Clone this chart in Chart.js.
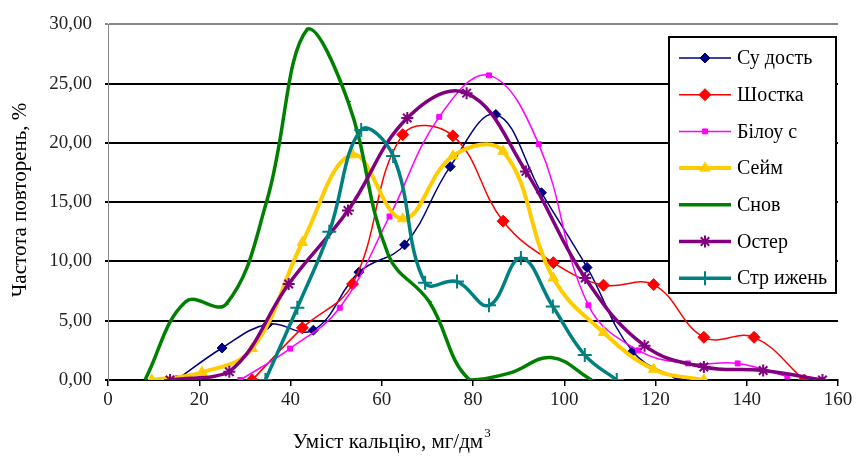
<!DOCTYPE html>
<html>
<head>
<meta charset="utf-8">
<script src="https://cdn.jsdelivr.net/npm/chart.js@4"></script>
<style>
  html, body { margin: 0; padding: 0; background: #fff; }
  #chart { display: block; }
</style>
</head>
<body>
<canvas id="chart" width="856" height="464"></canvas>
<script>
// values
const seriesNames = ['Су дость', 'Шостка', 'Білоу с', 'Сейм', 'Снов', 'Остер', 'Стр ижень'];

const sudostX = [15, 25, 35, 45, 55, 65, 75, 85, 95, 105, 115, 125];
const sudostY = [0, 2.7, 4.7, 4.2, 9.1, 11.4, 18.0, 22.4, 15.8, 9.5, 2.4, 0];

const shostkaX = [31.6, 42.6, 53.6, 64.6, 75.6, 86.6, 97.6, 108.6, 119.6, 130.6, 141.6, 152.6];
const shostkaY = [0, 4.4, 8.1, 20.7, 20.6, 13.4, 9.9, 8.0, 8.05, 3.6, 3.6, 0];

const bilousX = [29, 39.9, 50.8, 61.7, 72.6, 83.5, 94.4, 105.3, 116.2, 127.1, 138, 148.9];
const bilousY = [0, 2.65, 6.1, 13.8, 22.2, 25.7, 19.9, 6.3, 2.5, 1.4, 1.4, 0.3];

const seymX = [9.6, 20.6, 31.6, 42.6, 53.6, 64.6, 75.6, 86.6, 97.6, 108.6, 119.6, 130.6];
const seymY = [0, 0.65, 2.65, 11.6, 19.0, 13.6, 18.9, 19.3, 8.6, 4.0, 0.9, 0];

const snovX = [8.1, 17, 25.9, 34.8, 43.7, 52.6, 61.5, 70.4, 79.3, 88.2, 97.1, 106];
const snovY = [0, 6.6, 6.4, 15.1, 29.6, 23.5, 10.5, 6.6, 0, 0.6, 1.9, 0];

const osterX = [13.6, 26.6, 39.6, 52.6, 65.6, 78.6, 91.6, 104.6, 117.6, 130.6, 143.6, 156.6];
const osterY = [0, 0.7, 8.1, 14.3, 22.1, 24.2, 17.6, 8.6, 2.9, 1.1, 0.8, 0];

const stryzhenX = [34.5, 41.5, 48.5, 55.5, 62.5, 69.5, 76.5, 83.5, 90.5, 97.5, 104.5, 111.5];
const stryzhenY = [0, 6.1, 12.5, 21.1, 18.9, 8.2, 8.3, 6.3, 10.3, 6.2, 2.1, 0];

const xTicks = [0, 20, 40, 60, 80, 100, 120, 140, 160];
const yTicks = [0, 5, 10, 15, 20, 25, 30];

const xTitle = 'Уміст кальцію, мг/дм';
const yTitle = 'Частота повторень, %';

const serif = '"Liberation Serif", "Times New Roman", serif';

const pairs = (xs, ys) => xs.map((x, i) => ({ x: x, y: ys[i] }));

const styles = [
  { color: '#000080', width: 1.5, point: 'rectRot', radius: 5 },
  { color: '#FF0000', width: 1.5, point: 'rectRot', radius: 6 },
  { color: '#FF00FF', width: 1.5, point: 'rect', radius: 3.5 },
  { color: '#FFCC00', width: 4, point: 'triangle', radius: 6 },
  { color: '#008000', width: 3.5, point: 'dash', radius: 3 },
  { color: '#800080', width: 3.5, point: 'star', radius: 6 },
  { color: '#008080', width: 3.5, point: 'cross', radius: 7 },
];

const allData = [
  pairs(sudostX, sudostY),
  pairs(shostkaX, shostkaY),
  pairs(bilousX, bilousY),
  pairs(seymX, seymY),
  pairs(snovX, snovY),
  pairs(osterX, osterY),
  pairs(stryzhenX, stryzhenY),
];

const datasets = seriesNames.map((name, i) => ({
  label: name,
  data: allData[i],
  borderColor: styles[i].color,
  backgroundColor: styles[i].color,
  borderWidth: styles[i].width,
  pointStyle: styles[i].point,
  pointRadius: styles[i].radius,
  pointBorderWidth: styles[i].point === 'star' || styles[i].point === 'cross' ? 2 : 1,
  pointHoverRadius: styles[i].radius,
  tension: 0.4,
  showLine: true,
  fill: false,
  order: seriesNames.length - i,
}));

function drawMarker(ctx, ds, x, y) {
  if (Chart.helpers && Chart.helpers.drawPoint) {
    ctx.save();
    ctx.fillStyle = ds.backgroundColor;
    ctx.strokeStyle = ds.borderColor;
    ctx.lineWidth = ds.pointBorderWidth;
    Chart.helpers.drawPoint(ctx, { pointStyle: ds.pointStyle, radius: ds.pointRadius, rotation: 0, borderWidth: ds.pointBorderWidth }, x, y);
    ctx.restore();
  }
}

const extras = {
  id: 'extras',
  afterDraw(chart) {
    const ctx = chart.ctx;
    ctx.save();

    // axis titles
    ctx.fillStyle = '#000';
    ctx.font = '21px ' + serif;
    ctx.textBaseline = 'middle';
    ctx.textAlign = 'center';
    ctx.save();
    ctx.translate(20, 200);
    ctx.rotate(-Math.PI / 2);
    ctx.fillText(yTitle, 0, 0);
    ctx.restore();

    const w = ctx.measureText(xTitle).width;
    const x0 = 392 - w / 2 - 4;
    ctx.textAlign = 'left';
    ctx.fillText(xTitle, x0, 442);
    ctx.font = '13px ' + serif;
    ctx.fillText('3', x0 + w + 1, 434);

    // legend box
    const bx = 669, by = 37, bw = 167, bh = 256;
    ctx.fillStyle = '#fff';
    ctx.fillRect(bx, by, bw, bh);
    ctx.strokeStyle = '#000';
    ctx.lineWidth = 2;
    ctx.strokeRect(bx, by, bw, bh);

    chart.data.datasets.forEach((ds, i) => {
      const y = 58 + i * 36.7;
      ctx.strokeStyle = ds.borderColor;
      ctx.lineWidth = ds.borderWidth;
      ctx.beginPath();
      ctx.moveTo(679, y);
      ctx.lineTo(731, y);
      ctx.stroke();
      drawMarker(ctx, ds, 705, y);
      ctx.fillStyle = '#000';
      ctx.font = '20px ' + serif;
      ctx.textAlign = 'left';
      ctx.textBaseline = 'middle';
      ctx.fillText(ds.label, 737, y + 1);
    });
    ctx.restore();
  }
};

new Chart(document.getElementById('chart'), {
  type: 'scatter',
  data: { datasets: datasets },
  plugins: [extras],
  options: {
    responsive: false,
    animation: false,
    layout: { padding: { top: 19, right: 18, left: 0, bottom: 0 } },
    plugins: {
      legend: { display: false },
      tooltip: { enabled: false },
    },
    scales: {
      x: {
        type: 'linear',
        min: 0,
        max: 160,
        afterFit: (s) => { s.height = 84; },
        afterBuildTicks: (s) => { s.ticks = xTicks.map(v => ({ value: v })); },
        grid: {
          drawOnChartArea: false,
          drawTicks: true,
          tickLength: 6,
          color: '#000',
          lineWidth: 1.5,
        },
        border: { color: '#000', width: 2 },
        ticks: {
          color: '#222',
          padding: 3,
          maxRotation: 0,
          font: { family: serif, size: 19 },
        },
      },
      y: {
        min: 0,
        max: 30,
        afterFit: (s) => { s.width = 108; },
        afterBuildTicks: (s) => { s.ticks = yTicks.map(v => ({ value: v })); },
        grid: {
          color: (c) => (c.tick && c.tick.value === 30 ? '#888' : '#000'),
          lineWidth: 2,
          drawTicks: true,
          tickLength: 3,
        },
        border: { color: '#888', width: 1 },
        ticks: {
          color: '#222',
          padding: 13,
          font: { family: serif, size: 19 },
          callback: (v) => v.toFixed(2).replace('.', ','),
        },
      },
    },
  },
});
</script>
</body>
</html>
